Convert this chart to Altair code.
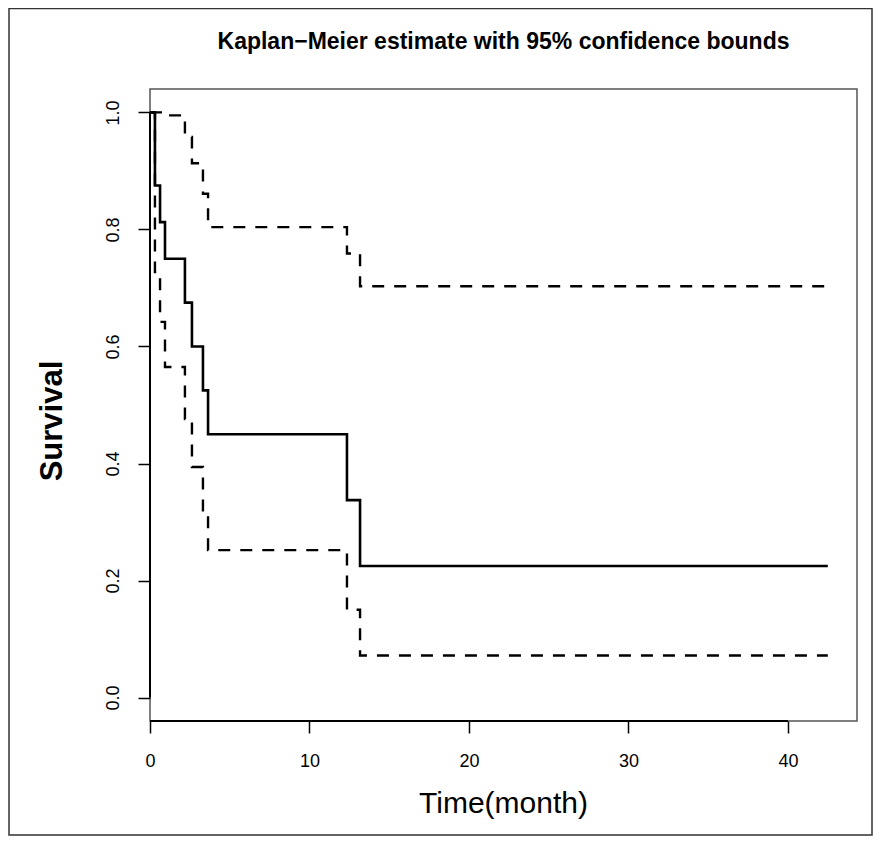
import altair as alt
import pandas as pd

# Kaplan-Meier estimate (step points)
km_time = [0, 0.31, 0.63, 0.94, 2.19, 2.63, 3.32, 3.64, 12.35, 13.17, 42.5]
km_surv = [1.0, 0.875, 0.8125, 0.75, 0.675, 0.6, 0.525, 0.45, 0.3375, 0.225, 0.225]
upper_bound = [1.0, 1.0, 1.0, 0.995, 0.958, 0.913, 0.861, 0.804, 0.759, 0.703, 0.703]
lower_bound = [1.0, 0.727, 0.642, 0.565, 0.476, 0.394, 0.320, 0.252, 0.150, 0.072, 0.072]

x_ticks = [0, 10, 20, 30, 40]
y_ticks = [0.0, 0.2, 0.4, 0.6, 0.8, 1.0]

title_text = "Kaplan\u2212Meier estimate with 95% confidence bounds"
x_title = "Time(month)"
y_title = "Survival"

W, H = 707, 632
FONT = "Liberation Sans"

km_df = pd.DataFrame({"t": km_time, "s": km_surv})
up_df = pd.DataFrame({"t": km_time, "s": upper_bound})
lo_df = pd.DataFrame({"t": km_time, "s": lower_bound})

xs = alt.Scale(domain=[0, 44.33], nice=False, zero=False)
ys = alt.Scale(domain=[-0.04, 1.04], nice=False, zero=False)

common_axis = dict(
    title=None, domain=False, grid=False, ticks=True, tickColor="black",
    tickSize=12, tickWidth=1.5, labelFont=FONT, labelFontSize=18,
    labelColor="black", labelOverlap=False,
)
x_axis = alt.Axis(values=x_ticks, labelFlush=False, labelPadding=33,
                  labelAlign="center", labelBaseline="alphabetic", **common_axis)
y_axis = alt.Axis(values=y_ticks, format=".1f", labelAngle=270,
                  labelAlign="center", labelBaseline="alphabetic", labelPadding=20,
                  **common_axis)

km_line = alt.Chart(km_df).mark_line(
    interpolate="step-after", color="black", strokeWidth=2.6
).encode(
    x=alt.X("t:Q", scale=xs, axis=x_axis),
    y=alt.Y("s:Q", scale=ys, axis=y_axis),
)

up_line = alt.Chart(up_df).mark_line(
    interpolate="step-after", color="black", strokeWidth=2.4, strokeDash=[12, 10]
).encode(x=alt.X("t:Q", scale=xs), y=alt.Y("s:Q", scale=ys))

lo_line = alt.Chart(lo_df).mark_line(
    interpolate="step-after", color="black", strokeWidth=2.4, strokeDash=[12, 10]
).encode(x=alt.X("t:Q", scale=xs), y=alt.Y("s:Q", scale=ys))

# axis lines spanning only the tick range (as in base R)
xaxis_df = pd.DataFrame({"a": [x_ticks[0]], "b": [x_ticks[-1]]})
yaxis_df = pd.DataFrame({"a": [y_ticks[0]], "b": [y_ticks[-1]]})
x_axis_line = alt.Chart(xaxis_df).mark_rule(color="black", strokeWidth=2).encode(
    x=alt.X("a:Q", scale=xs), x2="b:Q", y=alt.value(H)
)
y_axis_line = alt.Chart(yaxis_df).mark_rule(color="black", strokeWidth=2).encode(
    y=alt.Y("a:Q", scale=ys), y2="b:Q", x=alt.value(0)
)

one = pd.DataFrame({"k": [0]})
frame = alt.Chart(one).mark_rect(
    fillOpacity=0, stroke="#333", strokeWidth=1.5, clip=False
).encode(
    x=alt.value(-141), x2=alt.value(722), y=alt.value(-80.5), y2=alt.value(746)
)

title_mark = alt.Chart(one).mark_text(
    text=title_text, font=FONT, fontSize=23, fontWeight="bold", color="black",
    align="center", baseline="alphabetic"
).encode(x=alt.value(W / 2), y=alt.value(-40))

xtitle_mark = alt.Chart(one).mark_text(
    text=x_title, font=FONT, fontSize=30, color="black",
    align="center", baseline="alphabetic"
).encode(x=alt.value(W / 2), y=alt.value(724))

ytitle_mark = alt.Chart(one).mark_text(
    text=y_title, font=FONT, fontSize=31, fontWeight="bold", color="black",
    align="center", baseline="alphabetic", angle=270
).encode(x=alt.value(-88), y=alt.value(332))

chart = alt.layer(
    frame, lo_line, up_line, km_line, x_axis_line, y_axis_line,
    title_mark, xtitle_mark, ytitle_mark
).properties(
    width=W, height=H,
    autosize=alt.AutoSizeParams(type="none"),
    padding={"left": 142, "top": 81, "right": 16, "bottom": 115},
    background="white",
).configure_view(
    stroke="#555", strokeWidth=1.5
)

chart.save("out.html", embed_options={"renderer": "svg", "actions": False})
